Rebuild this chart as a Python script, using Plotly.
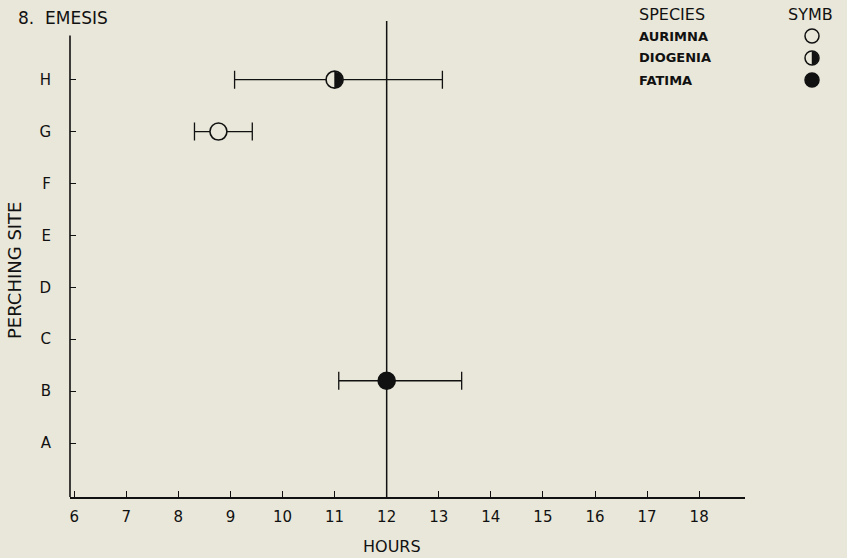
import plotly.graph_objects as go

# ---- data ----
species = ["AURIMNA", "DIOGENIA", "FATIMA"]
mean_hour = [8.77, 11.0, 12.0]
low_hour = [8.31, 9.08, 11.08]
high_hour = [9.42, 13.07, 13.44]
site_value = [6, 7, 1.2]          # A=0 ... H=7
site_labels = ["A", "B", "C", "D", "E", "F", "G", "H"]
hour_ticks = list(range(6, 19))
noon_hour = 12

BG = "#e9e7d9"
INK = "#111111"
FONT = "DejaVu Sans"

# pixel layout helpers (plot area: left 70, right 745, top 21, bottom 497)
L, R, T, B = 70, 745, 21, 497
def px(x):
    return (x - L) / (R - L)
def py(y):
    return (B - y) / (B - T)

fig = go.Figure()

fill_colors = [BG, BG, INK]
for i, name in enumerate(species):
    fig.add_trace(go.Scatter(
        x=[mean_hour[i]], y=[site_value[i]], mode="markers", name=name,
        marker=dict(symbol="circle", size=17, color=fill_colors[i],
                    line=dict(color=INK, width=1.6)),
        error_x=dict(type="data", symmetric=False,
                     array=[high_hour[i] - mean_hour[i]],
                     arrayminus=[mean_hour[i] - low_hour[i]],
                     color=INK, thickness=1.3, width=9),
        showlegend=False, hoverinfo="skip"))

def half_path(r):
    k = 0.5523 * r
    return (f"M0,{-r} C{k},{-r} {r},{-k} {r},0 "
            f"C{r},{k} {k},{r} 0,{r} Z")

shapes = []
# half-filled marker for Diogenia
shapes.append(dict(type="path", xref="x", yref="y", xsizemode="pixel", ysizemode="pixel",
                   xanchor=mean_hour[1], yanchor=site_value[1], path=half_path(8),
                   fillcolor=INK, line=dict(color=INK, width=0.5), layer="above"))
# noon reference line
shapes.append(dict(type="line", xref="x", yref="y", x0=noon_hour, x1=noon_hour,
                   y0=-1.04, y1=8.13, line=dict(color=INK, width=1.5), layer="below"))
# left axis line
shapes.append(dict(type="line", xref="paper", yref="y", x0=0, x1=0,
                   y0=-1.04, y1=7.85, line=dict(color=INK, width=1.6)))

# legend symbols
leg_x = 812
leg_ys = [36, 58, 80]
r = 7
for i, yy in enumerate(leg_ys):
    fc = [BG, BG, INK][i]
    shapes.append(dict(type="circle", xref="paper", yref="paper",
                       x0=px(leg_x - r), x1=px(leg_x + r), y0=py(yy + r), y1=py(yy - r),
                       fillcolor=fc, line=dict(color=INK, width=1.5)))
shapes.append(dict(type="path", xref="paper", yref="paper", xsizemode="pixel", ysizemode="pixel",
                   xanchor=px(leg_x), yanchor=py(leg_ys[1]), path=half_path(6.5),
                   fillcolor=INK, line=dict(color=INK, width=0.5)))

annotations = [
    dict(text="8.  EMESIS", x=px(16), y=py(18), xanchor="left", yanchor="middle",
         font=dict(size=17, color=INK, family=FONT)),
    dict(text="SPECIES", x=px(637), y=py(14), xanchor="left", yanchor="middle",
         font=dict(size=16, color=INK, family=FONT)),
    dict(text="SYMB", x=px(786), y=py(14), xanchor="left", yanchor="middle",
         font=dict(size=16, color=INK, family=FONT)),
    dict(text="PERCHING SITE", x=px(14), y=py(270), textangle=-90, xanchor="center",
         yanchor="middle", font=dict(size=18, color=INK, family=FONT)),
    dict(text="HOURS", x=px(392), y=py(546), xanchor="center", yanchor="middle",
         font=dict(size=16, color=INK, family=FONT)),
]
for i, name in enumerate(species):
    annotations.append(dict(text=f"<b>{name}</b>", x=px(637), y=py(leg_ys[i]),
                            xanchor="left", yanchor="middle",
                            font=dict(size=13, color=INK, family=FONT)))
for a in annotations:
    a.update(xref="paper", yref="paper", showarrow=False)

fig.update_layout(
    width=847, height=558,
    margin=dict(l=L, r=847 - R, t=T, b=558 - B, pad=0),
    paper_bgcolor=BG, plot_bgcolor=BG,
    font=dict(family=FONT, color=INK),
    shapes=shapes, annotations=annotations,
    xaxis=dict(range=[5.92, 18.88], tickvals=hour_ticks, ticktext=[str(h) for h in hour_ticks],
               showgrid=False, zeroline=False, showline=True, linecolor=INK, linewidth=1.6,
               ticks="inside", ticklen=6, tickwidth=1.3, tickcolor=INK,
               ticklabelstandoff=5, tickfont=dict(size=15, family=FONT, color=INK)),
    yaxis=dict(range=[-1.04, 8.13], tickvals=list(range(len(site_labels))), ticktext=site_labels,
               showgrid=False, zeroline=False, showline=False,
               ticks="inside", ticklen=6, tickwidth=1.3, tickcolor=INK,
               ticklabelstandoff=18, tickfont=dict(size=15, family=FONT, color=INK)),
)

fig.write_html("out.html")
